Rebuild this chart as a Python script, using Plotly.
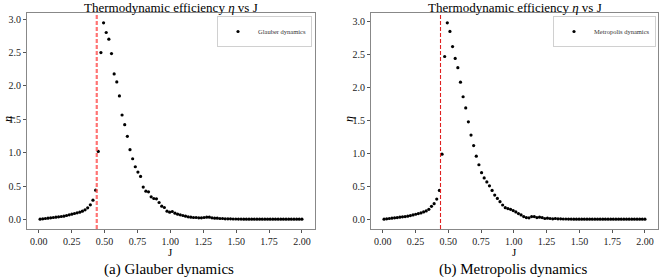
import numpy as np
import plotly.graph_objects as go

# coupling values J (100 evenly spaced samples)
J = np.linspace(0.01, 2.0, 100)

eta_glauber = [
    0.005, 0.01, 0.015, 0.02, 0.025, 0.03, 0.035, 0.04, 0.045, 0.05,
    0.06, 0.07, 0.08, 0.09, 0.10, 0.11, 0.125, 0.145, 0.175, 0.22,
    0.29, 0.44, 1.02, 2.50, 2.945, 2.80, 2.70, 2.485, 2.18, 2.06,
    1.85, 1.565, 1.42, 1.245, 1.045, 0.91, 0.79, 0.71, 0.645, 0.485,
    0.425, 0.415, 0.34, 0.315, 0.31, 0.255, 0.20, 0.18, 0.125, 0.11,
    0.12, 0.095, 0.08, 0.07, 0.06, 0.05, 0.04, 0.035, 0.03, 0.03,
    0.025, 0.025, 0.03, 0.035, 0.035, 0.025, 0.02, 0.02, 0.015, 0.015,
    0.01, 0.01, 0.01, 0.008, 0.008, 0.006, 0.006, 0.005, 0.005, 0.005,
    0.005, 0.005, 0.005, 0.005, 0.005, 0.005, 0.005, 0.005, 0.005, 0.005,
    0.005, 0.005, 0.005, 0.005, 0.005, 0.005, 0.005, 0.005, 0.005, 0.005,
]

eta_metropolis = [
    0.005, 0.01, 0.015, 0.02, 0.025, 0.03, 0.035, 0.04, 0.045, 0.05,
    0.06, 0.07, 0.08, 0.09, 0.10, 0.115, 0.13, 0.155, 0.20, 0.24,
    0.31, 0.44, 0.99, 2.47, 2.98, 2.85, 2.62, 2.44, 2.30, 2.08,
    1.86, 1.69, 1.48, 1.28, 1.12, 0.96, 0.83, 0.71, 0.63, 0.57,
    0.51, 0.44, 0.37, 0.32, 0.27, 0.22, 0.18, 0.165, 0.155, 0.135,
    0.115, 0.09, 0.07, 0.045, 0.03, 0.025, 0.045, 0.045, 0.03, 0.035,
    0.03, 0.015, 0.02, 0.015, 0.01, 0.015, 0.01, 0.01, 0.008, 0.008,
    0.006, 0.006, 0.005, 0.005, 0.005, 0.005, 0.005, 0.005, 0.005, 0.005,
    0.005, 0.005, 0.005, 0.005, 0.005, 0.005, 0.005, 0.005, 0.005, 0.005,
    0.005, 0.005, 0.005, 0.005, 0.005, 0.005, 0.005, 0.005, 0.005, 0.005,
]

J_CRITICAL = 0.4407
x_ticks = [0.0, 0.25, 0.5, 0.75, 1.0, 1.25, 1.5, 1.75, 2.0]
y_ticks = [0.0, 0.5, 1.0, 1.5, 2.0, 2.5, 3.0]
series_names = ["Glauber dynamics", "Metropolis dynamics"]
captions = ["(a) Glauber dynamics", "(b) Metropolis dynamics"]
title_text = "Thermodynamic efficiency <i>η</i> vs J"

W, H = 661, 277
FONT = "Liberation Serif"

def rng(vals):
    lo, hi = min(vals), max(vals)
    m = 0.05 * (hi - lo)
    return [lo - m, hi + m]

fig = go.Figure()

domains_x = [[27 / W, 315 / W], [371 / W, 658 / W]]
domain_y = [1 - 229 / H, 1 - 13 / H]

fig.add_trace(go.Scatter(x=J, y=eta_glauber, mode="markers", name=series_names[0],
                         marker=dict(color="black", size=3.2), xaxis="x", yaxis="y",
                         legend="legend"))
fig.add_trace(go.Scatter(x=J, y=eta_metropolis, mode="markers", name=series_names[1],
                         marker=dict(color="black", size=3.2), xaxis="x2", yaxis="y2",
                         legend="legend2"))

axis_common = dict(showline=True, linecolor="#888888", linewidth=1, mirror=True,
                   ticks="outside", ticklen=3, tickcolor="#555555", showgrid=False,
                   zeroline=False, tickfont=dict(family=FONT, size=10, color="#222222"))

legend_common = dict(xanchor="right", yanchor="top", bordercolor="#d0d0d0", borderwidth=1,
                     bgcolor="white", font=dict(family=FONT, size=6.5, color="#333333"),
                     tracegroupgap=0, itemwidth=30)

fig.update_layout(
    width=W, height=H, margin=dict(l=0, r=0, t=0, b=0),
    paper_bgcolor="white", plot_bgcolor="white",
    font=dict(family=FONT, color="black"),
    xaxis=dict(domain=domains_x[0], anchor="y", range=rng(J), tickvals=x_ticks,
               tickformat=".2f", **axis_common),
    yaxis=dict(domain=domain_y, anchor="x", range=rng(eta_glauber), tickvals=y_ticks,
               tickformat=".1f", **axis_common),
    xaxis2=dict(domain=domains_x[1], anchor="y2", range=rng(J), tickvals=x_ticks,
                tickformat=".2f", **axis_common),
    yaxis2=dict(domain=domain_y, anchor="x2", range=rng(eta_metropolis), tickvals=y_ticks,
                tickformat=".1f", **axis_common),
    legend=dict(x=312 / W, y=1 - 16 / H, **legend_common),
    legend2=dict(x=656 / W, y=1 - 16 / H, **legend_common),
    showlegend=True,
)

# critical coupling lines
fig.add_shape(type="line", xref="x", yref="y domain", x0=J_CRITICAL, x1=J_CRITICAL,
              y0=0, y1=1, line=dict(color="rgba(255,80,80,0.8)", width=2.2, dash="4px,2px"))
fig.add_shape(type="line", xref="x2", yref="y2 domain", x0=J_CRITICAL, x1=J_CRITICAL,
              y0=0, y1=1, line=dict(color="#e02020", width=1.1, dash="4px,2px"))

centers = [sum(d) / 2 for d in domains_x]
for i, c in enumerate(centers):
    fig.add_annotation(text=title_text, xref="paper", yref="paper", x=c, y=1 - 7 / H,
                       showarrow=False, font=dict(family=FONT, size=13, color="black"),
                       xanchor="center", yanchor="middle")
    fig.add_annotation(text="J", xref="paper", yref="paper", x=c, y=1 - 252 / H,
                       showarrow=False, font=dict(family=FONT, size=11, color="black"),
                       xanchor="center", yanchor="middle")
    fig.add_annotation(text=captions[i], xref="paper", yref="paper", x=c - 2 / W,
                       y=1 - 269 / H, showarrow=False,
                       font=dict(family=FONT, size=15, color="black"),
                       xanchor="center", yanchor="middle")

for xpos in [8 / W, 349 / W]:
    fig.add_annotation(text="<i>η</i>", xref="paper", yref="paper", x=xpos, y=1 - 119 / H,
                       showarrow=False, textangle=-90,
                       font=dict(family=FONT, size=12, color="black"),
                       xanchor="center", yanchor="middle")

fig.write_html("out.html")
